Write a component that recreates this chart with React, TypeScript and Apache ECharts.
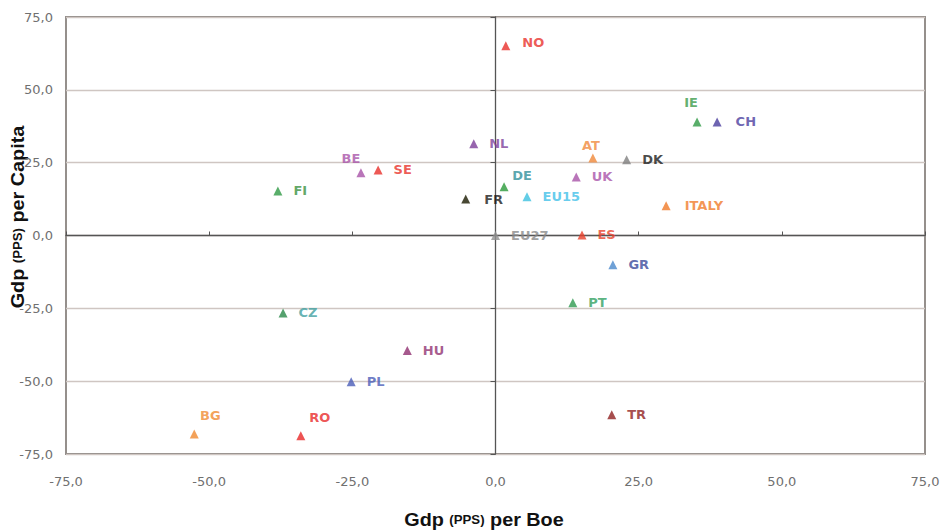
import React, { useEffect, useRef } from "react";
import * as echarts from "echarts";

// ---- data ----
const countries = ["NO", "IE", "CH", "NL", "AT", "DK", "BE", "SE", "UK", "DE", "FI", "EU15", "FR", "ITALY", "ES", "EU27", "GR", "PT", "CZ", "HU", "PL", "TR", "BG", "RO"];
const gdpPerBoe = [1.8, 35.2, 38.7, -3.8, 17.0, 22.9, -23.5, -20.5, 14.1, 1.5, -38.0, 5.5, -5.2, 29.8, 15.1, 0.0, 20.5, 13.5, -37.1, -15.4, -25.2, 20.3, -52.6, -34.0];
const gdpPerCapita = [65.1, 39.0, 39.0, 31.5, 26.6, 26.0, 21.5, 22.5, 20.1, 16.7, 15.3, 13.3, 12.5, 10.2, 0.2, 0.0, -10.0, -23.1, -26.6, -39.5, -50.2, -61.5, -68.1, -68.7];

// ---- styles ----
const markerColors: Record<string, string> = {
  NO: "#e8302a", IE: "#2f9a45", CH: "#4a3d9e", NL: "#7d3f9a", AT: "#f0883a", DK: "#808080",
  BE: "#a852a8", SE: "#e8302a", UK: "#a852a8", DE: "#2a9a3a", FI: "#2f9a45", EU15: "#3cc0e0",
  FR: "#1a1a00", ITALY: "#f07a28", ES: "#e8402a", EU27: "#909090", GR: "#4a88cc", PT: "#2f9a50",
  CZ: "#2a8a4a", HU: "#903070", PL: "#4a5cb8", TR: "#902020", BG: "#f08a30", RO: "#e82828",
};
const labelColors: Record<string, string> = {
  NO: "#e8302a", IE: "#3a9a48", CH: "#4a3d9e", NL: "#7d3f9a", AT: "#f0883a", DK: "#1a1a1a",
  BE: "#a852a8", SE: "#e8302a", UK: "#a852a8", DE: "#2f8f9a", FI: "#3a9040", EU15: "#40c0e8",
  FR: "#1a1a1a", ITALY: "#f07a28", ES: "#e8402a", EU27: "#888888", GR: "#3a4a9a", PT: "#30a060",
  CZ: "#40a0a0", HU: "#903070", PL: "#4a5cb8", TR: "#902020", BG: "#f08a30", RO: "#e82828",
};
// label placement: [position, dx, dy]
const labelPlacement: Record<string, [string, number, number]> = {
  NO: ["right", 4, -3], CH: ["right", 6, 0], ITALY: ["right", 6, 0], FR: ["right", 6, 0],
  IE: ["top", -6, -3], AT: ["top", -2, 3], BE: ["top", -10, 2], DE: ["top", 18, 5],
  BG: ["top", 16, -2], RO: ["top", 19, -2],
};

const fmt = (v: number) => v.toFixed(1).replace(".", ",");
const LAB_FONT = "DejaVu Sans, Verdana, sans-serif";
const NAME_FONT = "Liberation Sans, Arial, sans-serif";

export default function App() {
  const ref = useRef<HTMLDivElement>(null);
  useEffect(() => {
    if (!ref.current) return;
    const chart = echarts.init(ref.current, undefined, { renderer: "svg" });
    const data = countries.map((name, i) => {
      const p = labelPlacement[name] || ["right", 3, 0];
      return {
        name,
        value: [gdpPerBoe[i], gdpPerCapita[i]],
        itemStyle: { color: markerColors[name] },
        label: {
          show: true,
          position: p[0],
          distance: p[0] === "top" ? 5 : 8,
          offset: [p[1], p[2]],
          formatter: name,
          color: labelColors[name],
          fontSize: 13,
          fontWeight: "bold",
          fontFamily: LAB_FONT,
        },
      };
    });
    const axisLabelStyle = { color: "#707070", fontSize: 13, fontFamily: LAB_FONT };
    const nameRich = {
      a: { fontSize: 18, fontWeight: "bold", fontFamily: NAME_FONT, fill: "#111" },
      b: { fontSize: 12, fontWeight: "bold", fontFamily: NAME_FONT, fill: "#111" },
    };
    chart.setOption({
      animation: false,
      backgroundColor: "#ffffff",
      grid: {
        left: 66, right: 19, top: 17, bottom: 77,
        show: true, borderColor: "#8a8480", borderWidth: 1.8, backgroundColor: "transparent",
      },
      xAxis: [
        {
          type: "value", min: -75, max: 75, interval: 25, position: "bottom",
          axisLine: { show: false, onZero: false }, axisTick: { show: false },
          splitLine: { show: false },
          axisLabel: { ...axisLabelStyle, margin: 21, formatter: (v: number) => fmt(v) },
        },
        {
          type: "value", min: -75, max: 75, interval: 25,
          axisLine: { show: true, onZero: true, lineStyle: { color: "#555", width: 1.3 } },
          axisTick: { show: true, inside: false, length: 4, lineStyle: { color: "#555" } },
          axisLabel: { show: false },
          splitLine: { show: false },
        },
      ],
      yAxis: {
        type: "value", min: -75, max: 75, interval: 25,
        axisLine: { show: true, onZero: true, lineStyle: { color: "#555", width: 1.3 } },
        axisTick: { show: true, length: 5, lineStyle: { color: "#555" } },
        axisLabel: { ...axisLabelStyle, margin: 13, formatter: (v: number) => fmt(v) },
        splitLine: { show: true, lineStyle: { color: "#cfc6c2", width: 1.3 } },
      },
      graphic: [
        {
          type: "text", x: 484, y: 520, scaleX: 1.1,
          style: {
            text: "{a|Gdp }{b|(PPS)}{a| per Boe}",
            textAlign: "center", textVerticalAlign: "middle",
            rich: nameRich,
          },
        },
        {
          type: "text", x: 18, y: 217, rotation: Math.PI / 2, scaleX: 1.1,
          style: {
            text: "{a|Gdp }{b|(PPS)}{a| per Capita}",
            textAlign: "center", textVerticalAlign: "middle",
            rich: nameRich,
          },
        },
      ],
      series: [
        {
          type: "scatter",
          xAxisIndex: 0,
          symbol: "triangle",
          symbolSize: 9,
          data,
        },
      ],
    });
    return () => chart.dispose();
  }, []);
  return <div ref={ref} style={{ position: "absolute", left: 0, top: 0, width: 944, height: 531 }} />;
}
